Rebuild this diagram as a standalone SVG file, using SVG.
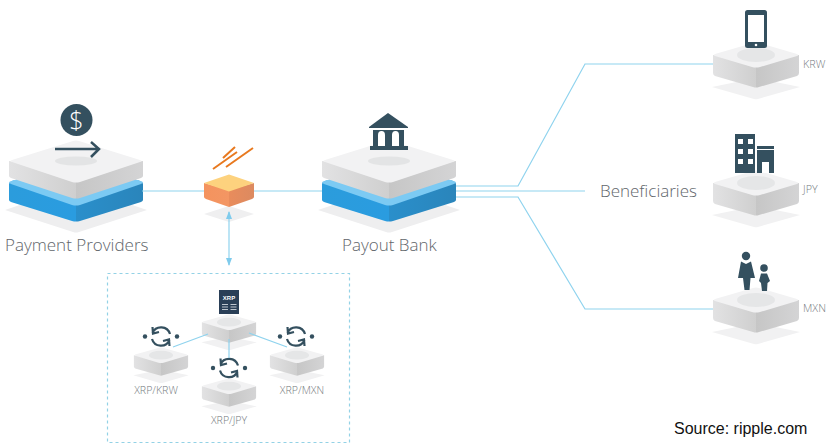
<svg xmlns="http://www.w3.org/2000/svg" width="830" height="447" viewBox="0 0 830 447">
<style>
.lbl{font-family:"Open Sans","Noto Sans",sans-serif;font-weight:300;fill:#5f666b}
.big{font-size:17px}
.cur{font-size:10.800px;fill:#74797d}
.mini{font-size:10.600px;fill:#74797d;text-anchor:middle}
.conn{fill:none;stroke:#8fd3ee;stroke-width:1.2}
.ic{fill:#34505f}
.wh{fill:#fff}
.sync{fill:none;stroke:#34505f;stroke-width:2.200}
</style>
<defs>
<linearGradient id="gs"><stop offset="0" stop-color="#e2e2e3"/><stop offset=".5" stop-color="#cfcfcf"/><stop offset=".5" stop-color="#c6c6c6"/><stop offset="1" stop-color="#d4d4d5"/></linearGradient>
<linearGradient id="gb"><stop offset="0" stop-color="#2b9cdc"/><stop offset=".5" stop-color="#2a9ce0"/><stop offset=".5" stop-color="#2a8fcb"/><stop offset="1" stop-color="#2a85bb"/></linearGradient>
<linearGradient id="go"><stop offset="0" stop-color="#f4935e"/><stop offset=".5" stop-color="#f39663"/><stop offset=".5" stop-color="#e98c5c"/><stop offset="1" stop-color="#dc8a60"/></linearGradient>
<marker id="ah" viewBox="0 0 8 8" refX="7" refY="4" markerWidth="8" markerHeight="8" orient="auto-start-reverse" markerUnits="userSpaceOnUse"><path d="M0 1L8 4L0 7Z" fill="#7fcbec"/></marker>
<g id="bignode">
<path d="M-71 70L0 46L71 70L3 92Q0 93-3 92Z" fill="#eeeeef"/>
<path d="M-67 44Q-67 42-64 41L0 20L64 41Q67 42 67 44V60Q67 61 65 62L4 81Q0 82-4 81L-65 62Q-67 61-67 60Z" fill="url(#gb)"/>
<path d="M-67 42L-62 40L62 40L67 42Q67 43 65 44L4 65Q0 66-4 65L-65 44Q-67 43-67 42Z" fill="#7ccaf3"/>
<path d="M-67 21V36Q-67 37-65 38L-4 58Q0 59 4 58L65 38Q67 37 67 36V21L0 30Z" fill="url(#gs)"/>
<path d="M-64 20L-3 1Q0 0 3 1L64 20Q67 21 64 22L4 42Q0 43-4 42L-64 22Q-67 21-64 20Z" fill="#f2f2f3"/>
<ellipse cx="0" cy="21" rx="21" ry="4.500" fill="#e3e4e5"/>
</g>
<g id="smallnode">
<path d="M-44 45L0 36L44 45L2 57Q0 57.500-2 57Z" fill="#f1f1f2"/>
<path d="M-43 13V31Q-43 33-41 34L-3 45Q0 46 3 45L41 34Q43 33 43 31V13L0 18Z" fill="url(#gs)"/>
<path d="M-41 12L-3 1Q0 0 3 1L41 12Q43 13 41 14L4 25Q0 26-4 25L-41 14Q-43 13-41 12Z" fill="#f2f2f3"/>
<ellipse cx="0" cy="13" rx="19" ry="7" fill="#e5e6e7"/>
</g>
<g id="sync">
<path class="sync" d="M-8.500 -3.500A9.300 9.300 0 0 1 9 -2.500M-8.500 -9.500L-8 -3L-2 -4.500"/>
<path class="sync" d="M8.500 3.500A9.300 9.300 0 0 1 -9 2.500M8.500 9.500L8 3L2 4.500"/>
<circle cx="-16" cy="0" r="2.200" class="ic"/><circle cx="16" cy="0" r="2.200" class="ic"/>
</g>
</defs>
<rect width="830" height="447" fill="#fff"/>
<g id="payment-providers">
<use href="#bignode" x="76" y="140"/>
<circle cx="76.500" cy="120" r="16" class="ic"/>
<text x="76.500" y="129" text-anchor="middle" font-family="Open Sans,sans-serif" font-size="25" font-weight="300" fill="#fff">$</text>
<path d="M55 149H98M91 142L99 149L91 157" fill="none" stroke="#34505f" stroke-width="2.500"/>
<text class="lbl big" x="5" y="251">Payment Providers</text>
</g>
<g id="orange-node">
<path d="M204 214L229 206L254 214L229 222Z" fill="#efeff0"/>
<path d="M204 183V197Q204 198 206 199L229 207L252 199Q254 198 254 197V183L229 190Z" fill="url(#go)"/>
<path d="M204 183L229 174.500L254 183L229 191.500Z" fill="#fdd27e"/>
<path d="M213 169L237 152M223 158L235 147M226 167L253 148" stroke="#e8791f" stroke-width="2" fill="none"/>
</g>
<g id="payout-bank">
<use href="#bignode" x="389" y="140"/>
<path d="M388 113L408 127V128H369V127Z" class="ic"/>
<path d="M373 130H404V146H373Z" class="ic"/>
<path d="M370 146H408V150H370Z" class="ic"/>
<path d="M378 146V135Q378 131 381.500 131Q385 131 385 135V146ZM392 146V135Q392 131 395.500 131Q399 131 399 135V146Z" class="wh"/>
<text class="lbl big" x="342" y="251">Payout Bank</text>
</g>
<g id="beneficiaries"><text class="lbl big" x="600" y="197">Beneficiaries</text></g>
<g id="krw">
<use href="#smallnode" x="756" y="42"/>
<rect x="745" y="10" width="22" height="38" rx="2.500" class="ic"/>
<rect x="748" y="15" width="16" height="27" class="wh"/>
<circle cx="756" cy="45" r="1.300" class="wh"/>
<text class="lbl cur" x="803" y="68">KRW</text>
</g>
<g id="jpy">
<use href="#smallnode" x="756" y="170"/>
<rect x="735" y="134" width="20" height="39" class="ic"/>
<path d="M738 139h5v5h-5zM748 139h5v5h-5zM738 149h5v5h-5zM748 149h5v5h-5zM738 159h5v5h-5zM748 159h5v5h-5z" class="wh"/>
<rect x="757" y="146" width="17" height="3" class="ic"/>
<rect x="757" y="150" width="17" height="23" class="ic"/>
<rect x="762" y="162" width="7" height="11" class="wh"/>
<text class="lbl cur" x="803" y="193">JPY</text>
</g>
<g id="mxn">
<use href="#smallnode" x="756" y="287"/>
<circle cx="746" cy="256" r="4.200" class="ic"/>
<path d="M741 261.500L746 264L751 261.500L755 278H750.500L749.500 290H744.500L743 278H738Z" class="ic"/>
<circle cx="764" cy="268" r="3.800" class="ic"/>
<path d="M761 273.500H767L770 281L767.500 283L767 291H762L761 283L759 281Z" class="ic"/>
<text class="lbl cur" x="803" y="312">MXN</text>
</g>
<g id="xrp-box"><rect x="107.500" y="273.500" width="242" height="169" fill="none" stroke="#93d2e6" stroke-width="1.200" stroke-dasharray="3 3"/></g>
<g id="xrp-center">
<use href="#smallnode" transform="translate(229,314) scale(.63)"/>
<rect x="219" y="290" width="20" height="24" fill="#2a3f57"/>
<text x="229" y="300" text-anchor="middle" font-family="Liberation Sans,sans-serif" font-weight="700" font-size="6" fill="#fff">XRP</text>
<path d="M222 304.500h6M222 307h6M222 309.500h6M230.500 304.500h6M230.500 307h6M230.500 309.500h6" stroke="#cfd6dc" stroke-width=".9"/>
</g>
<g id="xrp-krw">
<use href="#smallnode" transform="translate(161,347) scale(.63)"/>
<use href="#sync" x="161" y="336.500"/>
<text class="lbl mini" x="156" y="394">XRP/KRW</text>
</g>
<g id="xrp-jpy">
<use href="#smallnode" transform="translate(229,378) scale(.63)"/>
<use href="#sync" x="229" y="368"/>
<text class="lbl mini" x="229" y="424">XRP/JPY</text>
</g>
<g id="xrp-mxn">
<use href="#smallnode" transform="translate(297,347) scale(.63)"/>
<use href="#sync" x="296" y="336.500"/>
<text class="lbl mini" x="302" y="394">XRP/MXN</text>
</g>
<g id="connectors">
<path class="conn" d="M142 191H204M254 191H322"/>
<path class="conn" d="M456 186H518L585 64H713"/>
<path class="conn" d="M456 191H585"/>
<path class="conn" d="M456 197H518L585 309H713"/>
<path class="conn" d="M229 212V265" marker-start="url(#ah)" marker-end="url(#ah)"/>
<path class="conn" d="M229 339V358M208 334L173 347M249 333L287 347"/>
</g>
<g id="source"><text x="674" y="434" font-family="Liberation Sans,Arial,sans-serif" font-size="16" fill="#111">Source: ripple.com</text></g>
</svg>
